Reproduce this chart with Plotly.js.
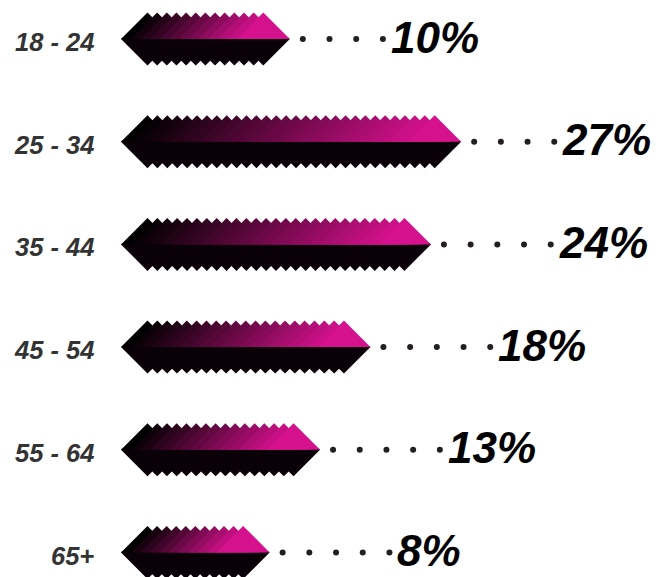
<!DOCTYPE html>
<html>
<head>
<meta charset="utf-8">
<script src="https://cdn.plot.ly/plotly-3.0.1.min.js"></script>
<style>html,body{margin:0;padding:0;background:#fff;}#chart{width:656px;height:577px;}</style>
</head>
<body>
<div id="chart"></div>
<script>
// ---- data ----
const ageGroups = ["18 - 24", "25 - 34", "35 - 44", "45 - 54", "55 - 64", "65+"];
const shares = [10, 27, 24, 18, 13, 8];
const shareLabels = ["10%", "27%", "24%", "18%", "13%", "8%"];

// ---- geometry / style ----
const W = 656, H = 577;
const PXX = 10.08;            // px per percentage point
const PXY = 102.7;            // px per row
const X0PX = 189;             // px where value 0 sits
const Y0PX = 39;              // px of first row centre
const xRange = [-X0PX / PXX, (W - X0PX) / PXX];
const yRange = [(H - Y0PX) / PXY, -Y0PX / PXY];
const barStart = -68 / PXX;   // left tip of every bar (in x units)
const half = 26.5;            // diamond half size, px
const toothPx = 10;           // spacing of diamonds, px
const magenta = [213, 17, 141];
const bottomColor = "rgb(10,1,8)";
const leaderDots = [4, 4, 5, 5, 5, 5];
const dotGapPx = 13, dotStepPx = 26.7;

const hx = half / PXX, hy = half / PXY;
const traces = [];
const annotations = [];

shares.forEach((v, row) => {
  const yc = row;
  const xL = barStart, xR = v;
  const c0 = xL + hx, cN = xR - hx;
  const spanPx = (cN - c0) * PXX;
  const n = Math.max(1, Math.round(spanPx / toothPx));
  const step = (cN - c0) / n;
  const notch = (step * PXX / 2) / PXY;
  const centres = [];
  for (let i = 0; i <= n; i++) centres.push(c0 + i * step);

  // bottom (black) half with serrated lower edge
  const bx = [xL, centres[0]], by = [yc, yc + hy];
  for (let i = 0; i < n; i++) {
    bx.push((centres[i] + centres[i + 1]) / 2); by.push(yc + hy - notch);
    bx.push(centres[i + 1]); by.push(yc + hy);
  }
  const e = 1.2;
  bx.push(xR, xR - e / PXX, xL + e / PXX, xL);
  by.push(yc, yc - e / PXY, yc - e / PXY, yc);
  traces.push({
    type: "scatter", mode: "lines", x: bx, y: by, fill: "toself",
    fillcolor: bottomColor, line: { width: 0, color: bottomColor },
    hoverinfo: "skip", showlegend: false
  });

  // top half: overlapping triangles with gradient black -> magenta
  centres.forEach((c, i) => {
    const t = n === 0 ? 1 : i / n;
    const col = `rgb(${Math.round(magenta[0] * t)},${Math.round(magenta[1] * t)},${Math.round(magenta[2] * t)})`;
    traces.push({
      type: "scatter", mode: "lines",
      x: [c - hx, c, c + hx, c - hx], y: [yc, yc - hy, yc, yc],
      fill: "toself", fillcolor: col, line: { width: 0, color: col },
      hoverinfo: "skip", showlegend: false
    });
  });

  // leader dots
  const dx = [], dy = [];
  for (let k = 0; k < leaderDots[row]; k++) {
    dx.push(xR + (dotGapPx + k * dotStepPx) / PXX);
    dy.push(yc);
  }
  traces.push({
    type: "scatter", mode: "markers", x: dx, y: dy,
    marker: { size: 6, color: "#231f20" }, hoverinfo: "skip", showlegend: false
  });

  // value label
  annotations.push({
    x: dx[dx.length - 1] + 6 / PXX, y: yc - 2 / PXY, xref: "x", yref: "y",
    xanchor: "left", yanchor: "middle", showarrow: false,
    text: shareLabels[row],
    font: { family: "Liberation Sans, Arial, sans-serif", size: 44, weight: 700, style: "italic", color: "#000" }
  });
  // category label
  annotations.push({
    x: 96 / W, y: yc + 3 / PXY, xref: "paper", yref: "y",
    xanchor: "right", yanchor: "middle", showarrow: false,
    text: ageGroups[row],
    font: { family: "Liberation Sans, Arial, sans-serif", size: 25.5, weight: 700, style: "italic", color: "#333" }
  });
});

const layout = {
  width: W, height: H,
  margin: { l: 0, r: 0, t: 0, b: 0 },
  paper_bgcolor: "#fff", plot_bgcolor: "#fff",
  xaxis: { range: xRange, visible: false, fixedrange: true },
  yaxis: { range: yRange, visible: false, fixedrange: true },
  showlegend: false, hovermode: false,
  annotations: annotations
};

Plotly.newPlot("chart", traces, layout, { displayModeBar: false, staticPlot: true });
</script>
</body>
</html>
